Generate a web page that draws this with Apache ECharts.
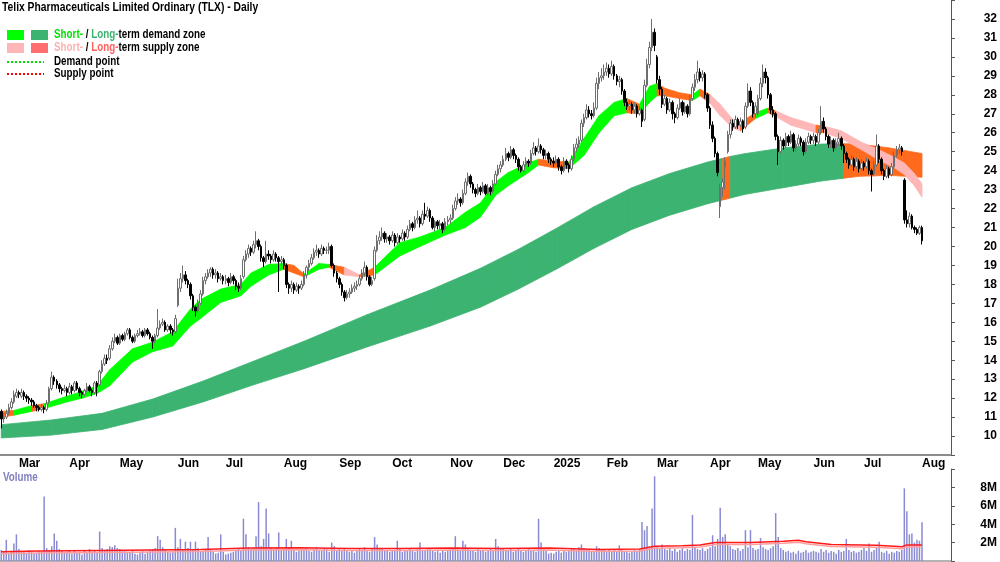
<!DOCTYPE html>
<html>
<head>
<meta charset="utf-8">
<script src="https://cdn.jsdelivr.net/npm/echarts@6/dist/echarts.min.js"></script>
<style>
html,body{margin:0;padding:0;background:#fff}
#main{width:1000px;height:562px}
</style>
</head>
<body>
<div id="main"></div>
<script>
var FONT = "'Liberation Sans', Arial, sans-serif";
var MONTHS = ['Jan','Feb','Mar','Apr','May','Jun','Jul','Aug','Sep','Oct','Nov','Dec'];

// ASX closed days in the range
var holidays = ['2024-03-29','2024-04-01','2024-04-25','2024-06-10','2024-12-25','2024-12-26',
  '2025-01-01','2025-01-27','2025-04-18','2025-04-21','2025-04-25','2025-06-09'];

// candles [open, close, low, high]
var c2402 = [[11.3,10.9,10.4,11.4],[10.9,11.0,10.7,11.2],[11.0,11.2,10.9,11.4],[11.2,11.5,11.1,11.7],[11.5,11.8,11.4,12.0],[11.8,12.2,11.7,12.4],[12.1,12.3,12.0,12.5]];
var c2403 = [[12.3,12.2,12.0,12.4],[12.1,12.3,12.0,12.5],[12.3,12.1,11.9,12.4],[12.1,12.0,11.8,12.2],[12.0,11.9,11.7,12.1],[11.9,11.8,11.6,12.0],[11.8,11.6,11.5,11.9],[11.6,11.5,11.3,11.7],[11.5,11.4,11.3,11.6],[11.4,11.5,11.3,11.7],
  [11.5,11.4,11.2,11.6],[11.4,11.7,11.3,11.9],[11.8,12.5,11.7,12.6],[12.5,13.1,12.4,13.4],[13.1,12.9,12.7,13.2],[12.9,12.7,12.5,13.0],[12.7,12.5,12.3,12.8],[12.5,12.4,12.2,12.6],[12.4,12.5,12.3,12.7],[12.5,12.3,12.1,12.6]];
var c2404 = [[12.3,12.6,12.2,12.8],[12.6,12.4,12.2,12.7],[12.4,12.8,12.3,12.9],[12.8,12.5,12.4,12.9],[12.5,12.3,12.1,12.6],[12.3,12.2,12.0,12.4],[12.2,12.4,12.1,12.5],[12.4,12.6,12.3,12.8],[12.6,12.4,12.3,12.7],[12.4,12.3,12.1,12.5],
  [12.3,12.8,12.2,12.9],[12.8,12.6,12.1,12.9],[12.7,13.4,12.6,13.5],[13.4,13.8,13.3,14.0],[13.8,14.1,13.7,14.3],[14.1,14.0,13.8,14.3],[14.1,14.6,14.0,14.8],[14.6,15.0,14.5,15.2],[15.0,15.2,14.9,15.4],[15.2,14.9,14.8,15.3]];
var c2405 = [[14.9,15.3,14.8,15.4],[15.3,15.1,15.0,15.4],[15.1,15.4,15.0,15.5],[15.4,15.6,15.3,15.7],[15.6,15.2,15.1,15.7],[15.2,15.0,14.9,15.3],[15.0,15.3,14.9,15.4],[15.3,15.4,15.2,15.6],[15.4,15.5,15.3,15.7],[15.5,15.3,15.2,15.6],
  [15.3,15.6,15.2,15.7],[15.6,15.4,15.3,15.7],[15.4,15.2,15.1,15.5],[15.2,15.0,14.6,15.3],[15.0,15.3,14.9,15.4],[15.3,15.7,15.2,16.7],[15.7,15.9,15.6,16.1],[15.9,16.0,15.8,16.2],[16.0,15.6,15.5,16.1],[15.6,15.8,15.5,15.9],
  [15.8,15.6,15.4,15.9],[15.6,15.5,15.3,15.7],[15.5,16.2,15.4,16.4]];
var c2406 = [[16.9,17.8,16.8,18.3],[17.8,18.3,17.6,18.6],[18.3,18.5,18.1,19.0],[18.5,18.2,18.0,18.7],[18.2,18.0,17.8,18.3],[18.0,17.4,17.2,18.1],[17.4,16.8,16.6,17.5],[16.8,16.6,16.3,16.9],[16.6,17.0,16.5,17.2],[17.0,17.5,16.9,17.7],
  [17.5,18.2,17.4,18.4],[18.2,18.4,18.0,18.6],[18.4,18.6,18.3,18.8],[18.6,18.8,18.4,18.9],[18.8,18.5,18.3,18.9],[18.5,18.6,18.3,18.8],[18.6,18.3,18.1,18.7],[18.3,18.4,18.2,18.6],[18.4,18.2,18.0,18.5]];
var c2407 = [[18.2,18.3,18.0,18.5],[18.3,18.1,17.9,18.4],[18.1,18.4,18.0,18.6],[18.4,18.2,18.0,18.5],[18.2,17.9,17.7,18.3],[17.9,17.8,17.6,18.1],[17.8,18.3,17.7,18.5],[18.4,19.3,18.3,19.5],[19.3,19.6,19.2,19.8],[19.6,19.9,19.4,20.1],
  [19.9,19.7,19.5,20.0],[19.7,20.1,19.6,20.3],[20.1,20.3,19.9,20.8],[20.3,20.0,19.8,20.4],[20.0,19.4,19.2,20.1],[19.4,19.2,18.9,19.5],[19.2,19.6,19.1,20.3],[19.6,19.5,19.3,19.8],[19.5,19.3,19.1,19.6],[19.3,19.6,19.2,19.8],
  [19.6,19.4,19.2,19.7],[19.4,19.2,17.6,19.5],[19.2,19.3,19.0,19.5]];
var c2408 = [[19.3,19.0,18.8,19.4],[19.0,18.0,17.8,19.1],[18.0,17.8,17.5,18.1],[17.8,18.0,17.6,18.2],[18.0,17.7,17.5,18.1],[17.7,17.9,17.6,18.1],[17.9,17.8,17.5,18.0],[17.8,18.0,17.7,18.2],[18.0,18.5,17.9,18.7],[18.5,18.9,18.3,19.0],
  [18.9,19.1,18.7,19.3],[19.1,19.4,19.0,19.6],[19.4,19.7,19.3,19.9],[19.7,19.8,19.5,20.1],[19.8,19.6,19.4,19.9],[19.6,19.9,19.5,20.1],[19.9,19.8,19.6,20.0],[19.8,19.8,19.6,20.0],[19.8,20.0,19.6,20.2],[20.0,19.0,18.9,20.1],
  [19.0,18.6,18.4,19.1],[18.6,18.3,18.1,18.7]];
var c2409 = [[18.3,18.0,17.8,18.4],[18.0,17.6,17.4,18.1],[17.6,17.3,17.1,17.7],[17.3,17.5,17.2,17.7],[17.5,17.6,17.3,17.8],[17.6,17.8,17.5,18.0],[17.8,17.9,17.6,18.1],[17.9,18.0,17.7,18.2],[18.0,18.3,17.9,18.5],[18.3,18.6,18.2,18.8],
  [18.6,18.9,18.4,19.2],[18.9,18.4,18.2,19.0],[18.4,18.0,17.9,18.5],[18.0,18.2,17.9,18.4],[18.3,19.8,18.2,20.0],[19.8,20.3,19.7,20.6],[20.3,20.5,20.1,20.8],[20.5,20.7,20.3,21.0],[20.7,20.4,20.2,20.8],[20.4,20.5,20.2,20.7],
  [20.5,20.3,20.1,20.6]];
var c2410 = [[20.3,20.6,20.2,20.8],[20.6,20.2,20.0,20.7],[20.2,20.5,20.1,20.7],[20.5,20.4,20.2,20.6],[20.4,20.7,20.3,20.9],[20.7,20.5,20.3,20.8],[20.5,20.9,20.4,21.1],[20.9,21.2,20.8,21.4],[21.2,21.0,20.8,21.3],[21.0,21.4,20.9,21.6],
  [21.4,21.5,21.2,21.9],[21.5,21.2,21.0,21.6],[21.2,21.7,21.1,21.9],[21.7,21.6,21.4,22.3],[21.6,21.9,21.5,22.1],[21.9,21.5,21.3,22.0],[21.5,21.0,20.9,21.6],[21.0,21.3,20.8,21.4],[21.3,21.1,20.9,21.4],[21.1,21.2,20.9,21.4],
  [21.2,20.9,20.7,21.3],[20.9,21.3,20.8,21.5],[21.3,21.4,21.1,21.6]];
var c2411 = [[21.4,21.5,21.2,21.7],[21.5,22.0,21.4,22.2],[22.0,22.4,21.9,22.6],[22.4,22.5,22.2,22.8],[22.5,22.3,22.1,22.6],[22.3,22.8,22.2,23.0],[22.8,23.4,22.7,23.6],[23.4,23.7,23.2,23.9],[23.7,23.3,23.1,23.8],[23.3,23.0,22.8,23.4],
  [23.0,22.8,22.6,23.1],[22.8,23.1,22.7,23.3],[23.1,22.9,22.7,23.2],[22.9,23.2,22.8,23.4],[23.2,22.8,22.7,23.3],[22.8,23.1,22.7,23.3],[23.1,22.9,22.7,23.2],[22.9,23.3,22.8,23.5],[23.3,23.8,23.2,24.0],[23.8,24.1,23.7,24.3],
  [24.1,24.3,23.9,24.5]];
var c2412 = [[24.3,24.6,24.2,24.8],[24.6,24.9,24.5,25.2],[24.9,24.7,24.5,25.0],[24.7,25.1,24.6,25.3],[25.1,24.8,24.6,25.2],[24.8,24.6,24.4,24.9],[24.6,24.2,24.0,24.7],[24.2,24.0,23.9,24.3],[24.0,24.3,23.9,24.5],[24.3,24.5,24.2,24.7],
  [24.5,24.4,24.2,24.6],[24.4,24.9,24.3,25.1],[24.9,25.2,24.8,25.5],[25.2,25.0,24.8,25.3],[25.0,25.3,24.9,25.7],[25.3,25.1,24.9,25.4],[25.1,24.8,24.6,25.2],[24.8,24.9,24.6,25.1],[24.9,24.6,24.4,25.0],[24.6,24.5,24.3,24.7]];
var c2501 = [[24.5,24.4,24.2,24.7],[24.4,24.6,24.3,24.8],[24.6,24.2,24.0,24.7],[24.2,24.0,23.8,24.3],[24.0,24.5,23.9,24.7],[24.5,24.3,24.1,24.6],[24.3,24.1,23.9,24.4],[24.1,24.6,24.0,24.8],[24.6,25.2,24.5,25.4],[25.2,25.4,25.0,25.7],
  [25.4,25.6,25.2,25.8],[25.6,26.5,25.5,26.7],[26.5,26.8,26.3,27.0],[26.8,27.2,26.7,27.5],[27.2,27.0,26.8,27.4],[27.0,26.9,26.7,27.2],[26.9,27.3,26.8,27.6],[27.3,28.6,27.2,28.9],[28.6,28.9,28.3,29.2],[28.9,29.0,28.7,29.4],
  [29.0,29.2,28.8,29.6]];
var c2502 = [[29.2,29.4,29.0,29.7],[29.4,29.1,28.9,29.6],[29.1,29.5,29.0,29.8],[29.5,29.0,28.8,29.6],[29.0,28.7,28.5,29.1],[28.7,28.8,28.4,29.0],[28.8,28.2,28.0,28.9],[28.2,27.6,27.4,28.3],[27.6,27.4,27.2,27.8],[27.4,27.5,27.2,27.7],
  [27.5,27.2,27.0,27.6],[27.2,27.4,27.0,27.6],[27.4,27.0,26.8,27.5],[27.0,27.2,26.9,27.4],[27.2,26.6,26.3,27.3],[26.7,28.5,26.6,28.8],[28.5,29.6,28.4,29.9],[29.6,30.5,29.4,30.8],[30.5,31.3,30.3,32.0],[31.3,30.6,30.3,31.5]];
var c2503 = [[30.0,28.8,28.6,30.1],[28.8,28.3,28.0,29.0],[28.3,27.5,27.3,28.4],[27.5,27.8,27.4,28.0],[27.8,27.2,27.0,27.9],[27.2,27.6,27.1,27.8],[27.6,27.0,26.7,27.7],[27.0,26.8,26.5,27.1],[26.8,27.3,26.7,27.5],[27.3,27.6,27.2,27.8],
  [27.6,27.1,26.9,27.7],[27.1,27.4,27.0,27.6],[27.4,27.0,26.8,27.5],[27.0,27.8,26.9,28.0],[27.8,28.4,27.7,28.6],[28.4,28.8,28.2,29.1],[28.8,29.2,28.6,29.8],[29.2,28.9,28.7,29.4],[28.9,29.1,28.7,29.3],[29.1,28.0,27.8,29.2],
  [28.0,27.3,27.1,28.1]];
var c2504 = [[27.3,26.4,26.2,27.4],[26.4,25.7,25.5,26.6],[25.7,24.9,24.7,25.8],[24.9,23.9,23.7,25.0],[22.1,23.1,21.5,23.3],[23.1,23.4,22.6,23.6],[24.2,24.5,23.0,24.7],[25.0,25.9,24.9,26.1],[25.9,26.5,25.7,26.7],[26.5,26.3,26.1,26.7],
  [26.3,26.7,26.2,26.9],[26.7,26.4,26.2,26.8],[26.4,26.6,26.3,26.8],[26.6,26.2,26.0,26.7],[26.3,27.4,26.2,27.6],[27.4,28.2,27.3,28.6],[28.2,27.6,27.4,28.4],[27.6,27.0,26.8,27.7],[27.0,27.4,26.8,27.6]];
var c2505 = [[27.0,27.8,26.9,28.0],[27.8,28.6,27.7,28.9],[28.6,29.2,28.4,29.6],[29.2,28.9,28.6,29.4],[28.9,28.0,27.8,29.0],[28.0,27.2,27.0,28.1],[27.2,27.0,26.8,27.4],[27.0,25.8,25.6,27.1],[25.8,25.0,24.3,25.9],[25.0,25.6,24.9,25.8],
  [25.6,25.3,25.1,25.7],[25.3,25.8,25.2,26.0],[25.8,25.5,25.3,25.9],[25.5,25.9,25.4,26.1],[25.9,25.2,25.0,26.0],[25.2,25.4,25.0,25.6],[25.4,25.7,25.3,25.9],[25.7,25.5,25.3,25.8],[25.5,25.0,24.8,25.6],[25.0,25.5,24.9,25.7],
  [25.5,25.8,25.4,26.0],[25.8,25.6,25.4,25.9]];
var c2506 = [[25.6,25.8,25.4,26.0],[25.8,25.5,25.3,25.9],[25.5,26.0,25.4,26.2],[26.0,26.6,25.9,27.4],[26.6,26.2,26.0,26.8],[26.2,25.8,25.6,26.3],[25.8,25.4,25.2,25.9],[25.4,25.6,25.2,25.8],[25.6,25.2,25.0,25.7],[25.2,25.5,25.1,25.7],
  [25.5,25.7,25.3,26.0],[25.7,25.3,25.1,25.8],[25.3,24.9,24.4,25.4],[24.9,24.6,24.4,25.0],[24.6,24.3,24.1,24.7],[24.3,24.6,24.2,24.8],[24.6,24.2,24.0,24.7],[24.2,24.5,24.1,24.7],[24.5,24.1,23.9,24.6],[24.1,24.4,24.0,24.6]];
var c2507 = [[24.4,24.2,24.0,24.5],[24.2,24.5,24.1,24.7],[24.5,24.0,23.8,24.6],[24.0,23.8,22.9,24.1],[23.8,24.3,23.7,24.5],[24.3,25.3,24.2,25.9],[25.3,24.6,24.4,25.4],[24.6,24.0,23.8,24.7],[24.0,23.7,23.5,24.1],[23.7,24.1,23.6,24.3],
  [24.1,23.8,23.6,24.2],[23.8,24.2,23.7,24.4],[24.2,24.8,24.1,25.0],[24.8,25.1,24.7,25.3],[25.1,25.2,24.9,25.4],[25.2,25.0,24.8,25.3],[23.5,21.4,21.2,23.6],[21.4,21.2,21.0,21.9],[21.2,21.6,21.0,21.8],[21.6,21.0,20.9,21.7],
  [21.0,20.9,20.7,21.1],[20.9,20.7,20.6,21.0],[20.7,21.0,20.6,21.1]];
var c2508 = [[21.0,20.3,20.1,21.1]];

// volume, millions
var v2402 = [1.2,1.0,2.3,0.9,1.1,1.9,2.9];
var v2403 = [1.3,1.1,1.0,0.9,1.2,1.0,0.8,0.9,1.1,1.0,7.0,1.4,1.2,1.6,3.0,2.2,1.3,1.1,0.9,1.0];
var v2404 = [1.1,0.8,1.2,0.9,1.0,0.7,1.1,0.9,1.3,1.0,1.2,0.9,3.2,1.4,1.2,1.3,1.6,1.5,1.7,1.4];
var v2405 = [1.3,1.2,1.1,1.0,0.9,1.2,0.8,0.7,0.9,1.1,0.8,1.0,1.2,1.3,1.4,2.7,2.3,1.5,1.2,1.0,0.9,1.1,3.6];
var v2406 = [1.5,2.4,1.3,2.1,1.4,2.1,1.2,2.1,1.4,1.0,1.1,1.2,2.6,1.3,1.0,0.8,0.9,2.9,1.0];
var v2407 = [0.7,0.8,0.9,1.0,1.1,1.3,1.2,4.6,2.9,1.5,1.3,1.4,2.7,6.4,1.6,2.4,5.7,3.0,1.5,1.3,1.4,3.1,1.2];
var v2408 = [1.3,2.4,1.5,2.2,1.2,1.0,1.1,1.3,1.2,1.4,1.1,1.0,1.3,1.5,1.2,1.1,1.4,1.3,1.0,2.0,1.6,1.2];
var v2409 = [1.3,1.1,1.4,1.2,1.0,1.1,0.9,1.2,1.3,1.1,1.5,1.2,1.0,1.4,2.6,1.8,1.4,1.3,1.1,1.2,1.0];
var v2410 = [1.2,1.1,2.2,1.3,1.0,1.2,1.1,1.4,1.2,1.0,1.3,2.0,1.2,1.1,1.4,1.3,1.1,1.0,1.2,0.9,1.1,1.0,1.2];
var v2411 = [1.3,1.4,2.7,1.5,1.2,2.2,1.8,1.4,1.2,1.1,1.0,1.3,1.1,1.2,1.0,1.1,1.3,1.2,2.4,1.6,1.3];
var v2412 = [1.4,1.2,1.1,1.3,1.0,1.2,1.4,1.1,1.0,1.2,1.3,1.1,1.2,1.0,4.6,2.0,1.3,1.1,0.8,0.9];
var v2501 = [0.8,1.0,1.1,0.9,1.2,1.0,1.1,1.3,1.4,1.2,1.5,1.8,1.4,1.3,1.2,1.0,1.1,1.6,1.4,1.2,1.3];
var v2502 = [1.1,1.3,1.0,1.2,1.1,1.7,1.2,1.0,1.1,0.9,1.0,1.2,1.1,1.3,4.25,3.35,3.8,1.5,5.7,9.2];
var v2503 = [1.6,1.4,1.8,1.3,1.2,1.4,1.1,1.3,1.0,1.2,1.4,1.1,1.3,1.2,5.0,1.5,1.3,1.2,1.4,1.1,1.3];
var v2504 = [1.5,2.8,1.6,2.4,5.8,2.6,2.9,1.8,1.6,1.3,1.2,1.4,1.1,1.3,3.35,1.5,3.35,1.4,1.2];
var v2505 = [1.3,2.5,1.5,1.3,1.2,1.4,1.6,5.2,2.6,1.4,1.2,1.0,1.1,0.9,1.0,0.8,1.1,0.9,1.0,1.2,0.9,1.0];
var v2506 = [1.1,1.0,0.9,1.3,1.0,1.2,0.9,1.1,1.0,0.8,1.2,1.0,1.1,2.4,1.2,1.0,1.1,0.9,1.0,1.2];
var v2507 = [1.4,1.1,1.9,1.0,1.2,1.5,2.1,1.0,0.9,1.1,0.8,1.0,0.9,1.1,1.0,1.2,7.9,5.4,2.9,3.0,2.0,2.3,2.2];
var v2508 = [4.2];

// volume average, sampled [day index, millions]
var volAvgIdx = [0,15,39,59,79,98,118,138,158,178,198,217,237,253,259,270,277,283,297,310,316,319,329,347,357,359,365];
var volAvgVal = [1.0,1.1,1.15,1.2,1.25,1.4,1.45,1.35,1.35,1.4,1.35,1.4,1.25,1.3,1.6,1.65,1.75,2.0,2.0,2.15,2.25,2.1,1.8,1.7,1.55,1.75,1.75];

// short-term zone, sampled (d = demand, s = supply, p = light supply)
var shortIdx  = [0,5,12,17,26,32,38,43,52,60,68,75,79,87,95,99,106,112,116,120,126,130,136,142,148,158,166,176,184,190,196,201,209,213,219,225,231,237,243,248,253,257,260,263,269,274,277,281,285,290,293,299,304,307,313,323,326,333,341,348,354,358,362,365];
var shortLo   = [11.0,11.1,11.3,11.45,11.8,12.0,12.25,12.65,13.9,14.45,14.75,15.8,16.2,17.05,17.4,17.9,18.5,18.8,18.6,18.4,18.8,18.9,18.5,18.4,18.5,19.5,20.0,20.6,21.0,21.55,22.7,23.2,23.9,24.3,24.15,24.1,24.8,26.0,26.9,27.05,27.0,27.6,27.95,27.95,27.8,27.7,27.95,27.55,26.9,26.25,26.1,26.75,27.05,26.85,26.4,26.0,26.0,25.7,25.1,24.55,24.15,23.8,23.2,22.6];
var shortHi   = [11.3,11.35,11.6,11.7,12.1,12.35,12.65,13.5,14.6,14.95,15.5,16.7,17.2,17.75,18.0,18.6,19.05,19.1,19.0,18.55,19.1,19.05,18.9,18.5,18.9,20.2,20.5,21.0,21.8,22.3,23.4,23.9,24.4,24.6,24.5,24.45,25.7,26.9,27.6,27.8,27.5,28.45,28.6,28.35,28.1,28.0,28.3,28.0,27.5,26.7,26.55,27.05,27.3,27.15,26.8,26.4,26.35,26.1,25.5,25.1,24.7,24.4,23.85,23.3];
var shortZone = ['s','d','s','d','d','d','d','d','d','d','d','d','d','d','d','d','d','s','s','d','d','s','p','s','d','d','d','d','d','d','d','d','d','s','s','d','d','d','d','s','d','d','s','s','s','d','s','p','p','p','s','d','s','p','p','s','p','p','p','p','p','p','p','p'];

// long-term zone, sampled
var longIdx  = [0,20,40,60,80,100,120,145,170,190,205,220,235,250,265,280,286,289,295,310,325,334,340,352,365];
var longLo   = [9.9,10.05,10.35,11.0,11.8,12.7,13.55,14.7,15.8,16.8,17.75,18.8,19.9,20.9,21.65,22.25,22.45,22.55,22.75,23.1,23.45,23.6,23.7,23.75,23.65];
var longHi   = [10.6,10.85,11.2,11.95,12.9,13.95,15.0,16.4,17.7,18.85,19.85,20.95,22.1,23.1,23.85,24.45,24.65,24.75,24.9,25.2,25.4,25.42,25.4,25.2,24.9];
var longZone = ['d','d','d','d','d','d','d','d','d','d','d','d','d','d','d','d','s','d','d','d','d','s','s','s','s'];

var candles = [].concat(c2402,c2403,c2404,c2405,c2406,c2407,c2408,c2409,c2410,c2411,c2412,c2501,c2502,c2503,c2504,c2505,c2506,c2507,c2508);
var volume = [].concat(v2402,v2403,v2404,v2405,v2406,v2407,v2408,v2409,v2410,v2411,v2412,v2501,v2502,v2503,v2504,v2505,v2506,v2507,v2508);

// trading days, plus a few empty days on the right
var days = [];
(function(){
  var d = new Date(Date.UTC(2024,1,21));
  while (days.length < candles.length + 11) {
    var wd = d.getUTCDay(), s = d.toISOString().slice(0,10);
    if (wd != 0 && wd != 6 && holidays.indexOf(s) < 0) days.push(s);
    d.setUTCDate(d.getUTCDate() + 1);
  }
})();
function isMonthStart(i){
  return i > 0 && days[i].slice(0,7) != days[i-1].slice(0,7);
}

var zoneColor = {d:'#00ff00', s:'#ff6a1c', p:'#ffb6b6'};
var longColor = {d:'#3cb371', s:'#ff6a1c'};

function bandSeries(name, idx, lo, hi, zone, colors){
  return {
    type:'custom', name:name, xAxisIndex:0, yAxisIndex:0, clip:true, silent:true,
    data: idx.map(function(x,k){ return [x, lo[k], hi[k]]; }),
    encode:{x:0, y:[1,2]},
    renderItem: function(params, api){
      var k = params.dataIndex;
      if (k >= idx.length - 1) return null;
      var a = api.coord([idx[k], lo[k]]), b = api.coord([idx[k+1], lo[k+1]]);
      var c = api.coord([idx[k+1], hi[k+1]]), d = api.coord([idx[k], hi[k]]);
      var col = colors[zone[k]];
      return {type:'polygon', shape:{points:[a,b,c,d]}, style:{fill:col, stroke:col, lineWidth:0.8}};
    }
  };
}

// text squeezed a little, the source uses a narrow face
function label(x, y, text, fill, rich, sx){
  var st = {text:text, font:'bold 12px ' + FONT, fill:fill || '#000', verticalAlign:'top'};
  if (rich) st.rich = rich;
  return {type:'text', x:x, y:y, scaleX:sx || 0.86, style:st};
}
function richPart(col){ return {fill:col, font:'bold 12px ' + FONT}; }

var chart = echarts.init(document.getElementById('main'));
var axisFont = {fontFamily:FONT, fontWeight:'bold', fontSize:12, color:'#000'};

chart.setOption({
  animation:false,
  backgroundColor:'#fff',
  grid:[
    {left:0, right:48, top:0, height:455},
    {left:0, right:48, top:469, height:92}
  ],
  xAxis:[
    {type:'category', gridIndex:0, data:days, boundaryGap:true,
     axisLine:{lineStyle:{color:'#8c8c8c', width:2}},
     axisTick:{interval:function(i){return isMonthStart(i);}, length:3, lineStyle:{color:'#8c8c8c'}},
     axisLabel:Object.assign({interval:function(i){return isMonthStart(i);}, align:'left', margin:3,
       formatter:function(v){ var m = +v.slice(5,7); return m == 1 ? v.slice(0,4) : MONTHS[m-1]; }}, axisFont),
     splitLine:{show:false}},
    {type:'category', gridIndex:1, data:days, position:'top', boundaryGap:true,
     axisLine:{lineStyle:{color:'#9a9a9a', width:1.5}}, axisTick:{show:false}, axisLabel:{show:false}, splitLine:{show:false}}
  ],
  yAxis:[
    {type:'value', gridIndex:0, position:'right', min:9, max:33, interval:1,
     axisLine:{show:true, lineStyle:{color:'#555', width:1}},
     axisTick:{show:true, length:4, lineStyle:{color:'#555'}},
     axisLabel:Object.assign({align:'right', margin:46,
       formatter:function(v){ return (v == 9 || v == 33) ? '' : v; }}, axisFont),
     splitLine:{show:false}},
    {type:'value', gridIndex:1, position:'right', min:0, max:10, interval:2,
     axisLine:{show:true, lineStyle:{color:'#555', width:1}},
     axisTick:{show:true, length:4, lineStyle:{color:'#555'}},
     axisLabel:Object.assign({align:'right', margin:46,
       formatter:function(v){ return (v == 0 || v == 10) ? '' : v + 'M'; }}, axisFont),
     splitLine:{show:false}}
  ],
  series:[
    bandSeries('long', longIdx, longLo, longHi, longZone, longColor),
    bandSeries('short', shortIdx, shortLo, shortHi, shortZone, zoneColor),
    {type:'candlestick', xAxisIndex:0, yAxisIndex:0, data:candles, barWidth:2,
     itemStyle:{color:'#ffffff', color0:'#000000', borderColor:'#6e6e6e', borderColor0:'#000000', borderWidth:1}},
    {type:'bar', xAxisIndex:1, yAxisIndex:1, data:volume, barWidth:1.5,
     itemStyle:{color:'#8a8ad4'}},
    {type:'line', xAxisIndex:1, yAxisIndex:1, symbol:'none',
     data: volAvgIdx.map(function(x,k){ return [x, volAvgVal[k]]; }),
     lineStyle:{color:'#ff1a1a', width:1.5, shadowColor:'#ff9c9c', shadowOffsetY:2, shadowBlur:0}}
  ],
  graphic:[
    label(2, 2, 'Telix Pharmaceuticals Limited Ordinary (TLX) - Daily'),
    {type:'rect', left:7, top:30, shape:{width:17, height:10}, style:{fill:'#00ff00'}},
    {type:'rect', left:31, top:30, shape:{width:17, height:10}, style:{fill:'#3cb371'}},
    {type:'rect', left:7, top:43, shape:{width:17, height:10}, style:{fill:'#ffb6b6'}},
    {type:'rect', left:31, top:43, shape:{width:17, height:10}, style:{fill:'#ff6e6e'}},
    {type:'line', shape:{x1:7, y1:62, x2:44, y2:62}, style:{stroke:'#00e000', lineWidth:2, lineDash:[2,2]}},
    {type:'line', shape:{x1:7, y1:74, x2:44, y2:74}, style:{stroke:'#ff0000', lineWidth:2, lineDash:[2,2]}},
    label(54, 29, '{a|Short-} / {b|Long-}term demand zone', '#000', {a:richPart('#00e000'), b:richPart('#3cb371')}, 0.82),
    label(54, 42, '{a|Short-} / {b|Long-}term supply zone', '#000', {a:richPart('#ffb0b0'), b:richPart('#ff6060')}, 0.82),
    label(54, 56, 'Demand point', '#000', null, 0.82),
    label(54, 68, 'Supply point', '#000', null, 0.82),
    label(3, 472, 'Volume', '#8080c0', null, 0.82)
  ]
});
</script>
</body>
</html>
